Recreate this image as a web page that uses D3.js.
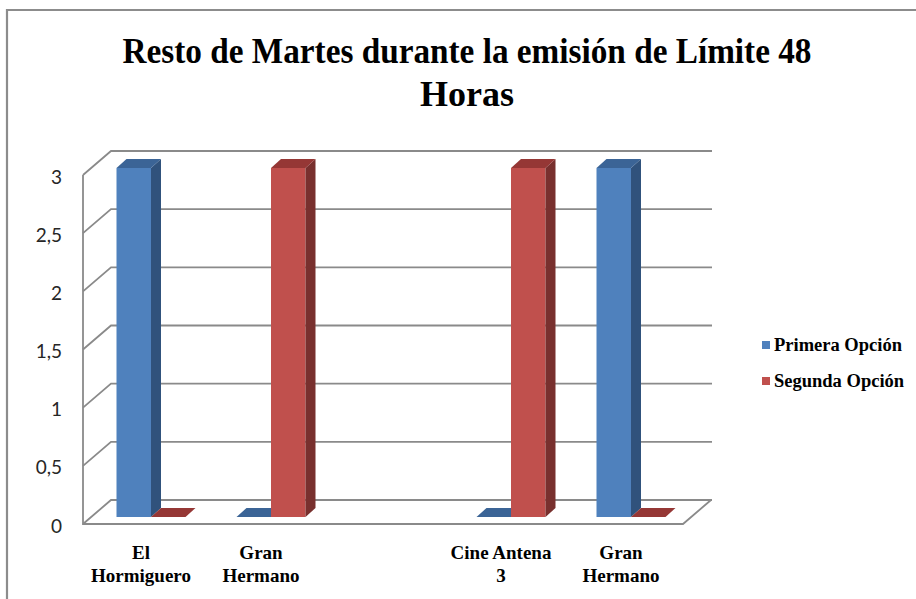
<!DOCTYPE html>
<html>
<head>
<meta charset="utf-8">
<script src="https://cdn.jsdelivr.net/npm/d3@7"></script>
<style>
  body { margin: 0; background: #fff; }
  svg { display: block; }
</style>
</head>
<body>
<div id="chart_svg"></div>
<script>
const title = ['Resto de Martes durante la emisión de Límite 48', 'Horas']
const categories = ['El Hormiguero', 'Gran Hermano', '', 'Cine Antena 3', 'Gran Hermano']
const seriesNames = ['Primera Opción', 'Segunda Opción']
const primera = [3, 0, null, 0, 3]
const segunda = [0, 3, null, 3, 0]
const yTicks = [0, 0.5, 1, 1.5, 2, 2.5, 3]

class Column3D {
  constructor(args) {
    const def = {
      el: '#chart_svg',
      width: 916,
      height: 599,
      floorLeft: 83,
      floorRight: 683,
      backBottom: 500,
      backTop: 151,
      depth: [28, -24],
      barDepth: [10, -9],
      barShift: [8, -7],
      barWidth: 34.5,
      grid: '#8a8a8a',
      theme: [
        { front: '#4f81bd', top: '#3b6496', side: '#30527c' },
        { front: '#c0504d', top: '#953735', side: '#78302e' }
      ]
    }
    Object.assign(def, args)
    Object.assign(this, def)
    this.initVis()
    this.drawFrame()
    this.drawWalls()
    this.drawBars()
    this.drawLabels()
    this.drawLegend()
  }

  initVis() {
    const vis = this
    vis.svg = d3
      .select(vis.el)
      .append('svg')
      .attr('width', vis.width)
      .attr('height', vis.height)
    vis.x = d3
      .scaleBand()
      .domain(d3.range(categories.length))
      .range([vis.floorLeft, vis.floorRight])
    vis.y = d3.scaleLinear().domain([0, 3]).range([vis.backBottom, vis.backTop])
    vis.fmt = d3.formatLocale({ decimal: ',', thousands: '.', grouping: [3], currency: ['', '€'] }).format('~g')
  }

  drawFrame() {
    const vis = this
    vis.svg
      .append('path')
      .attr('d', `M7,${vis.height} V10 H${vis.width}`)
      .attr('fill', 'none')
      .attr('stroke', '#8c8c8c')
      .attr('stroke-width', 2.2)

    vis.svg
      .append('g')
      .attr('font-family', '"Liberation Serif", "Times New Roman", serif')
      .attr('font-weight', 'bold')
      .attr('font-size', 36)
      .attr('text-anchor', 'middle')
      .selectAll('text')
      .data(title)
      .join('text')
      .attr('x', 467)
      .attr('y', (d, i) => 63 + i * 43)
      .attr('textLength', (d, i) => (i === 0 ? 689 : null))
      .attr('lengthAdjust', 'spacingAndGlyphs')
      .text(d => d)
  }

  drawWalls() {
    const vis = this
    const [dx, dy] = vis.depth
    const backLeft = vis.floorLeft + dx
    const backRight = vis.floorRight + dx
    const g = vis.svg
      .append('g')
      .attr('fill', 'none')
      .attr('stroke', vis.grid)
      .attr('stroke-width', 1.8)

    // back wall gridlines plus the matching diagonal on the side wall
    g.selectAll('.grid')
      .data(yTicks)
      .join('path')
      .attr('class', 'grid')
      .attr('d', t => `M${vis.floorLeft},${vis.y(t) - dy} L${backLeft},${vis.y(t)} H${backRight + 1}`)

    g.append('path').attr(
      'd',
      `M${vis.floorLeft},${vis.y(3) - dy} V${vis.y(0) - dy} H${vis.floorRight} L${backRight},${vis.y(0)}`
    )

    vis.svg
      .append('g')
      .attr('font-family', 'Lato, "Open Sans", sans-serif')
      .attr('font-size', 19)
      .attr('fill', '#262626')
      .attr('text-anchor', 'end')
      .selectAll('text')
      .data(yTicks)
      .join('text')
      .attr('x', 62)
      .attr('y', t => vis.y(t) - dy + 2)
      .attr('dy', '0.35em')
      .text(t => vis.fmt(t))
  }

  drawBars() {
    const vis = this
    const [bdx, bdy] = vis.barDepth
    const [sx, sy] = vis.barShift
    const base = vis.y(0) - vis.depth[1] + sy
    const rows = []
    ;[primera, segunda].forEach((vals, s) => {
      vals.forEach((v, i) => {
        if (v == null) return
        const cx = vis.x(i) + vis.x.bandwidth() / 2 + sx
        const x0 = cx - vis.barWidth + s * vis.barWidth
        const top = vis.y(v) - vis.depth[1] + sy
        rows.push({ s, v, x0, x1: x0 + vis.barWidth, top })
      })
    })

    const bar = vis.svg
      .append('g')
      .selectAll('g')
      .data(rows)
      .join('g')

    bar
      .filter(d => d.v > 0)
      .append('rect')
      .attr('x', d => d.x0)
      .attr('y', d => d.top)
      .attr('width', vis.barWidth)
      .attr('height', d => base - d.top)
      .attr('fill', d => vis.theme[d.s].front)

    bar
      .filter(d => d.v > 0)
      .append('path')
      .attr('d', d => `M${d.x1},${d.top} l${bdx},${bdy} V${base + bdy} L${d.x1},${base} Z`)
      .attr('fill', d => vis.theme[d.s].side)

    // zero values only show their flat top
    bar
      .append('path')
      .attr('d', d => `M${d.x0},${d.top} l${bdx},${bdy} H${d.x1 + bdx} L${d.x1},${d.top} Z`)
      .attr('fill', d => vis.theme[d.s].top)
  }

  wrap(name) {
    const lines = []
    name.split(' ').forEach(w => {
      const last = lines[lines.length - 1]
      if (last && (last + ' ' + w).length <= 11) lines[lines.length - 1] = last + ' ' + w
      else if (w) lines.push(w)
    })
    return lines
  }

  drawLabels() {
    const vis = this
    vis.svg
      .append('g')
      .attr('font-family', '"Liberation Serif", "Times New Roman", serif')
      .attr('font-weight', 'bold')
      .attr('font-size', 19)
      .attr('text-anchor', 'middle')
      .selectAll('text')
      .data(categories)
      .join('text')
      .attr('x', (d, i) => vis.x(i) + vis.x.bandwidth() / 2 - 2)
      .attr('y', 559)
      .selectAll('tspan')
      .data(d => vis.wrap(d))
      .join('tspan')
      .attr('x', function () {
        return this.parentNode.getAttribute('x')
      })
      .attr('dy', (d, i) => (i === 0 ? 0 : 23))
      .text(d => d)
  }

  drawLegend() {
    const vis = this
    const item = vis.svg
      .append('g')
      .selectAll('g')
      .data(seriesNames)
      .join('g')
      .attr('transform', (d, i) => `translate(762,${341 + i * 36})`)

    item
      .append('rect')
      .attr('width', 8)
      .attr('height', 8)
      .attr('fill', (d, i) => vis.theme[i].front)

    item
      .append('text')
      .attr('x', 12)
      .attr('y', 10)
      .attr('font-family', '"Liberation Serif", "Times New Roman", serif')
      .attr('font-weight', 'bold')
      .attr('font-size', 18.5)
      .text(d => d)
  }
}

const chart = new Column3D({})
</script>
</body>
</html>
